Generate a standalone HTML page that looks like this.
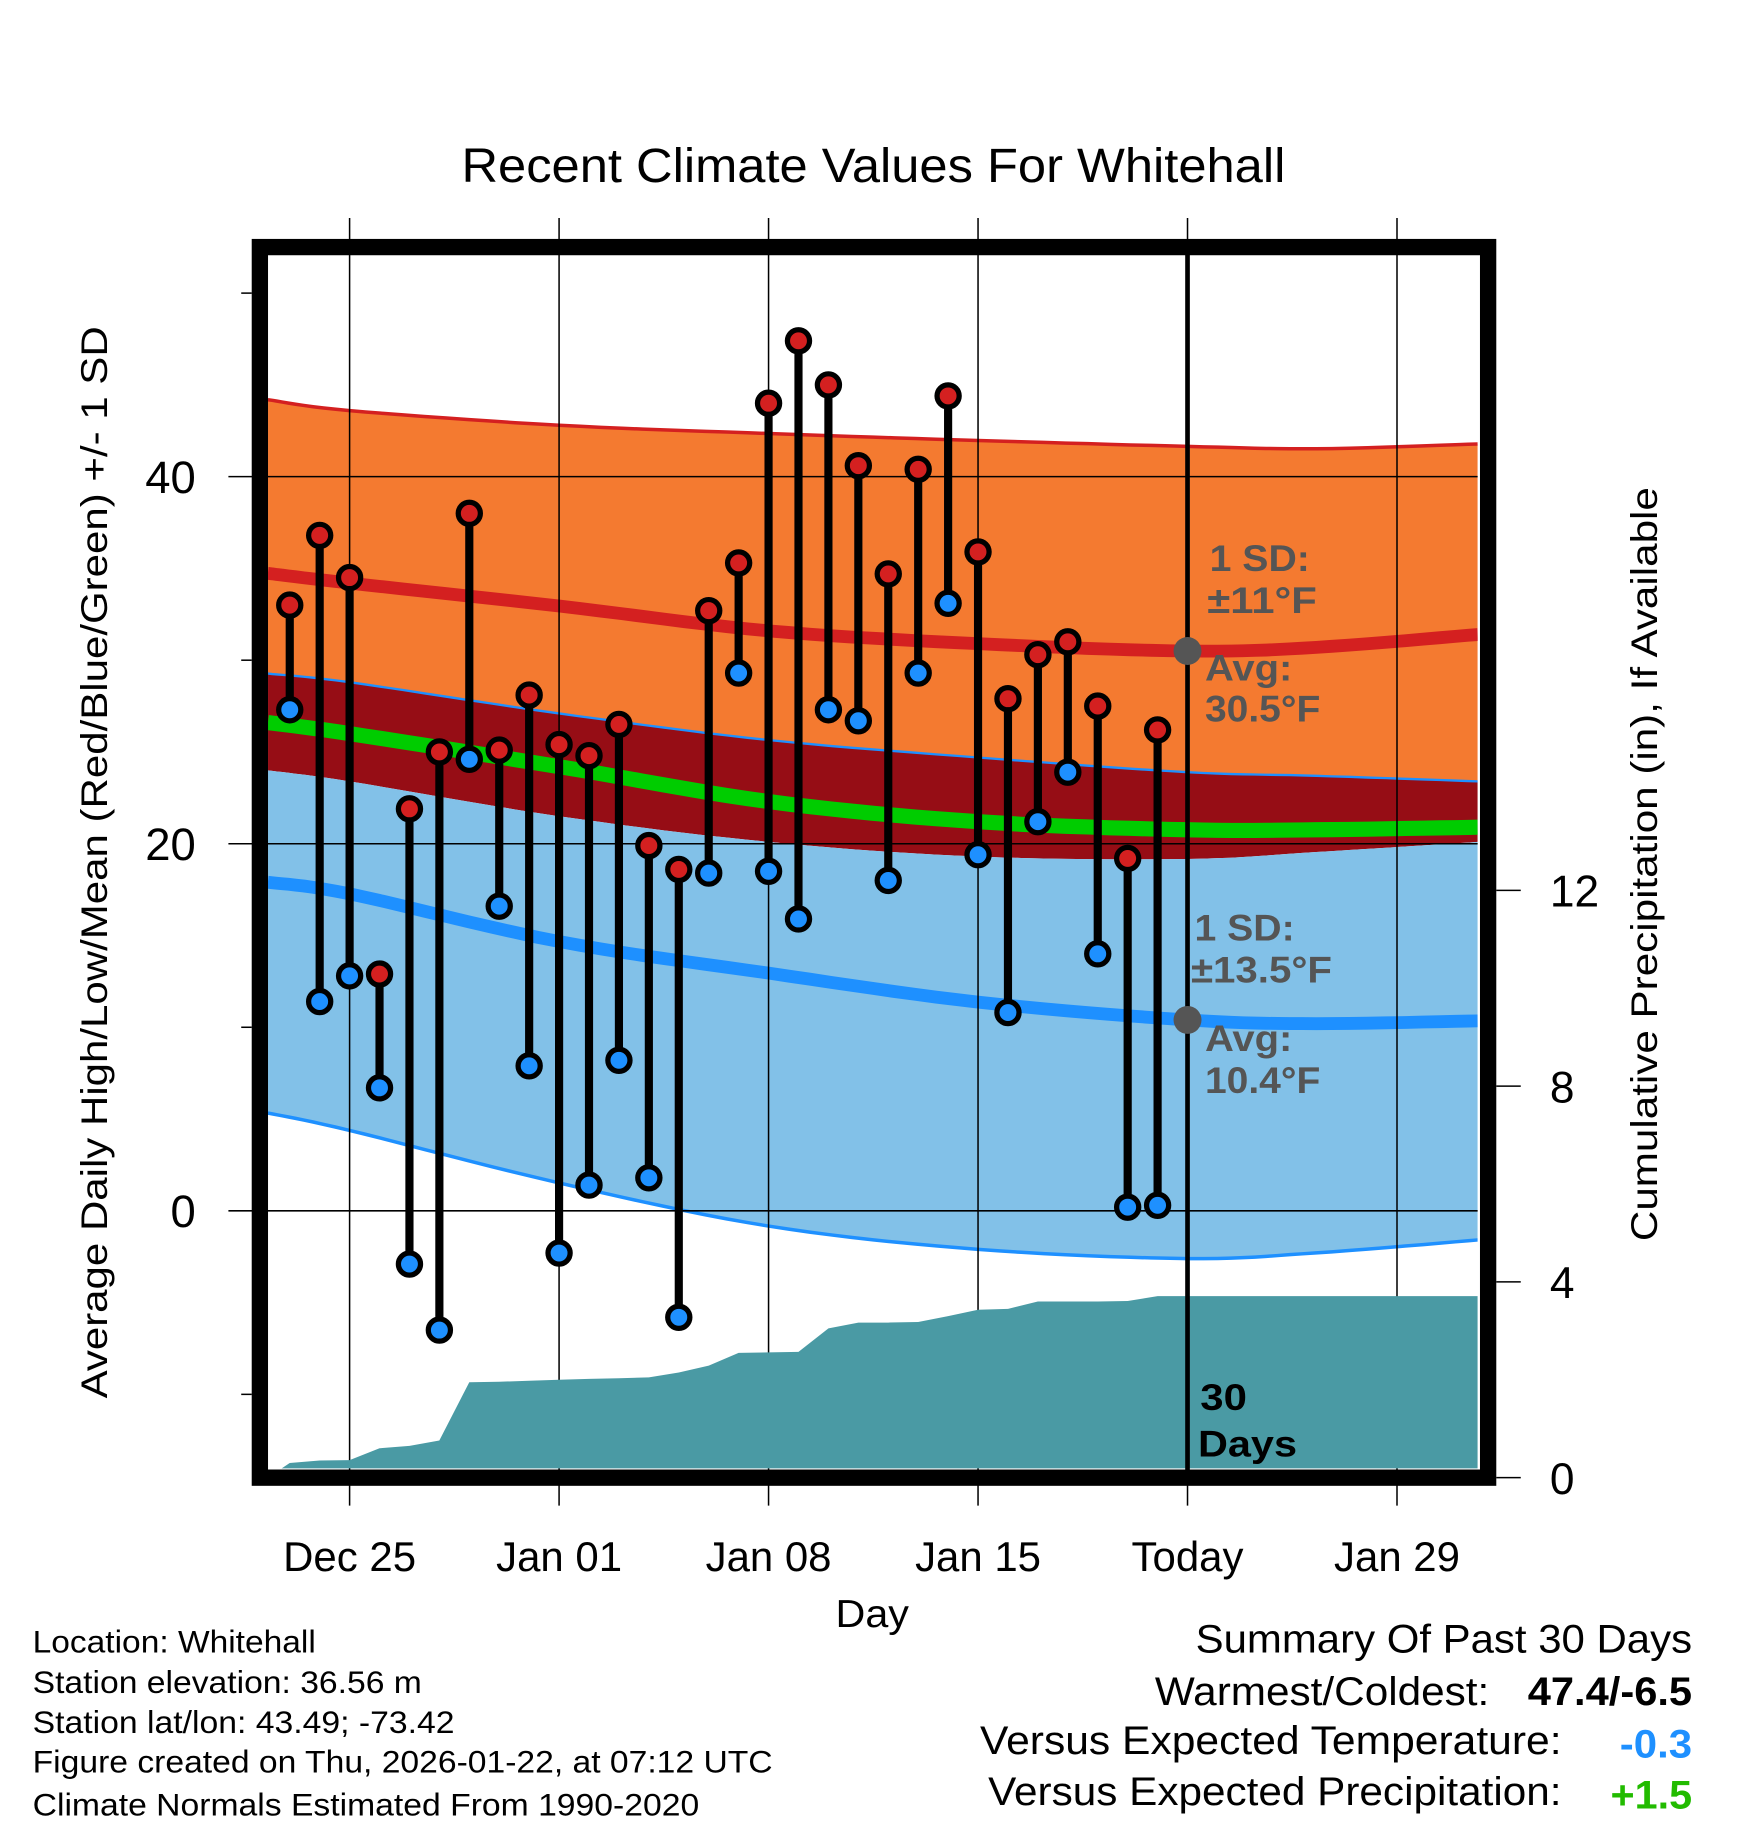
<!DOCTYPE html>
<html><head><meta charset="utf-8"><style>
html,body{margin:0;padding:0;background:#fff}
svg{display:block}
text{font-family:"Liberation Sans",Arial,sans-serif}
</style></head><body>
<svg id="chart" xmlns="http://www.w3.org/2000/svg" width="1748" height="1828" viewBox="0 0 1500 1568.6">
<defs><clipPath id="plotclip"><rect x="230" y="218" width="1038" height="1042"/></clipPath></defs>
<rect width="1500" height="1568.6" fill="#fff"/>
<text x="396" y="156" font-size="41" textLength="707" lengthAdjust="spacingAndGlyphs">Recent Climate Values For Whitehall</text>
<g id="bands" clip-path="url(#plotclip)"></g>
<g id="grid"></g>
<g id="precip" clip-path="url(#plotclip)"></g>
<g id="marks"></g>
<g id="annot"></g>
<rect x="223" y="212" width="1054" height="1056" fill="none" stroke="#000" stroke-width="14"/>
<g id="axes"></g>
<text transform="translate(92,1200) rotate(-90)" font-size="32" textLength="920" lengthAdjust="spacingAndGlyphs">Average Daily High/Low/Mean (Red/Blue/Green) +/- 1 SD</text>
<text transform="translate(1422,1065) rotate(-90)" font-size="32" textLength="647" lengthAdjust="spacingAndGlyphs">Cumulative Precipitation (in), If Available</text>
<text x="717" y="1396" font-size="33" textLength="63" lengthAdjust="spacingAndGlyphs">Day</text>
<g font-size="27">
<text x="28" y="1418" textLength="243" lengthAdjust="spacingAndGlyphs">Location: Whitehall</text>
<text x="28" y="1453" textLength="334" lengthAdjust="spacingAndGlyphs">Station elevation: 36.56 m</text>
<text x="28" y="1487" textLength="362" lengthAdjust="spacingAndGlyphs">Station lat/lon: 43.49; -73.42</text>
<text x="28" y="1521" textLength="635" lengthAdjust="spacingAndGlyphs">Figure created on Thu, 2026-01-22, at 07:12 UTC</text>
<text x="28" y="1558" textLength="572" lengthAdjust="spacingAndGlyphs">Climate Normals Estimated From 1990-2020</text>
</g>
<g font-size="34">
<text x="1026" y="1418" textLength="426" lengthAdjust="spacingAndGlyphs">Summary Of Past 30 Days</text>
<text x="991" y="1463" textLength="287" lengthAdjust="spacingAndGlyphs">Warmest/Coldest:</text>
<text x="1311" y="1463" font-weight="bold" textLength="141" lengthAdjust="spacingAndGlyphs">47.4/-6.5</text>
<text x="841" y="1505" textLength="499" lengthAdjust="spacingAndGlyphs">Versus Expected Temperature:</text>
<text x="1390" y="1508" font-weight="bold" fill="#1e90ff" textLength="62" lengthAdjust="spacingAndGlyphs">-0.3</text>
<text x="848" y="1549" textLength="492" lengthAdjust="spacingAndGlyphs">Versus Expected Precipitation:</text>
<text x="1382" y="1552" font-weight="bold" fill="#22bb00" textLength="70" lengthAdjust="spacingAndGlyphs">+1.5</text>
</g>
</svg>
<script>
// Data: day index 0 = Dec 23 .. 29 = Jan 21
const highs=[33.0,36.8,34.5,12.9,21.9,25.0,38.0,25.1,28.1,25.4,24.8,26.5,19.9,18.6,32.7,35.3,44.0,47.4,45.0,40.6,34.7,40.4,44.4,35.9,27.9,30.3,31.0,27.5,19.2,26.2];
const lows=[27.3,11.4,12.8,6.7,-2.9,-6.5,24.6,16.6,7.9,-2.3,1.4,8.2,1.8,-5.8,18.4,29.3,18.5,15.9,27.3,26.7,18.0,29.3,33.1,19.4,10.8,21.2,23.9,14.0,0.2,0.3];
const precip=[0.3,0.35,0.36,0.6,0.65,0.76,1.95,1.96,1.98,2.0,2.02,2.03,2.05,2.15,2.29,2.55,2.56,2.57,3.05,3.17,3.17,3.18,3.3,3.43,3.45,3.6,3.6,3.6,3.61,3.71];
// Normals sampled at day offsets (Dec 25 = 0)
const normDays=[-2.73,0,7,14,21,28,32.3,37.7];
const normUpper=[44.19,43.6,42.8,42.35,41.97,41.65,41.52,41.78];
const normHigh=[34.73,34.2,32.95,31.6,30.9,30.5,30.7,31.4];
const normHighMinus=[29.27,28.8,27.1,25.65,24.7,23.9,23.7,23.4];
const normMean=[26.6,26.0,24.2,22.3,21.2,20.76,20.76,20.9];
const normLowPlus=[24.0,23.4,21.5,20.1,19.3,19.17,19.55,20.1];
const normLow=[17.9,17.27,14.67,12.95,11.37,10.4,10.2,10.35];
const normLowMinus=[5.33,4.38,1.52,-0.83,-2.1,-2.6,-2.29,-1.59];
const yTicks=[40,20,0];
const yMinor=[50,30,10,-10];
const y2Ticks=[0,4,8,12];
const xTickDays=[0,7,14,21,28,35];
const xTickLabels=["Dec 25","Jan 01","Jan 08","Jan 15","Today","Jan 29"];
const todayDay=28;

const NS="http://www.w3.org/2000/svg";
const X=d=>300+d*25.68;
const Y=t=>1039-t*15.75;
const Y2=p=>1268-p*42;
function mk(tag,attrs,parent){const e=document.createElementNS(NS,tag);for(const k in attrs)e.setAttribute(k,attrs[k]);parent.appendChild(e);return e;}
const g=id=>document.getElementById(id);
// smooth sampling via Catmull-Rom
function smoothPts(arr){
  const P=normDays.map((d,i)=>[X(d),Y(arr[i])]);
  const out=[];
  for(let i=0;i<P.length-1;i++){
    const p0=P[Math.max(0,i-1)],p1=P[i],p2=P[i+1],p3=P[Math.min(P.length-1,i+2)];
    for(let s=0;s<10;s++){
      const t=s/10,t2=t*t,t3=t2*t;
      const f=(a,b,c,d)=>0.5*((2*b)+(-a+c)*t+(2*a-5*b+4*c-d)*t2+(-a+3*b-3*c+d)*t3);
      out.push([f(p0[0],p1[0],p2[0],p3[0]),f(p0[1],p1[1],p2[1],p3[1])]);
    }
  }
  out.push(P[P.length-1]);
  return out.map(p=>p[0].toFixed(1)+","+p[1].toFixed(1));
}
function band(top,bot,fill,name){
  const p=smoothPts(top).concat(smoothPts(bot).reverse());
  const e=mk('polygon',{points:p.join(' '),fill:fill},g('bands'));
  
  
}
function line(arr,color,w,name){
  const e=mk('polyline',{points:smoothPts(arr).join(' '),fill:'none',stroke:color,'stroke-width':w,'stroke-linejoin':'round'},g('bands'));
  
  
}
band(normUpper,normHighMinus,'#f47a30','high-sd-band');
band(normHighMinus,normLowPlus,'#960d15','overlap-band');
band(normLowPlus,normLowMinus,'#82c1e8','low-sd-band');
line(normUpper,'#d42020',3,'high-plus-sd-line');
line(normHighMinus,'#1e90ff',2,'high-minus-sd-line');
line(normLowMinus,'#1e90ff',3,'low-minus-sd-line');
line(normHigh,'#d42020',11,'normal-high-line');
line(normMean,'#00cc00',13,'normal-mean-line');
line(normLow,'#1e90ff',11,'normal-low-line');

yTicks.forEach(t=>{
  const l=mk('line',{x1:196,x2:1268,y1:Y(t),y2:Y(t),stroke:'#000','stroke-width':1.3},g('grid'));
  
  
  const tx=mk('text',{x:168,y:Y(t)+14,'font-size':39,'text-anchor':'end'},g('axes'));
  tx.textContent=t;
  
  
});
yMinor.forEach(t=>{
  const l=mk('line',{x1:207,x2:216,y1:Y(t),y2:Y(t),stroke:'#000','stroke-width':1.3},g('axes'));
  
  
});
y2Ticks.forEach(p=>{
  const l=mk('line',{x1:1284,x2:1305,y1:Y2(p),y2:Y2(p),stroke:'#000','stroke-width':1.3},g('axes'));
  
  
  const tx=mk('text',{x:1330,y:Y2(p)+14,'font-size':38},g('axes'));
  tx.textContent=p;
  
  
});
xTickDays.forEach((d,i)=>{
  const l=mk('line',{x1:X(d),x2:X(d),y1:187,y2:1292,stroke:'#000','stroke-width':1.3},g('grid'));
  
  
  const tx=mk('text',{x:X(d),y:1348,'font-size':36,'text-anchor':'middle'},g('axes'));
  tx.textContent=xTickLabels[i];
  
  
});

(function(){
  let p=[X(-2.73)+','+Y2(0)];
  precip.forEach((v,i)=>p.push(X(i-2).toFixed(1)+','+Y2(v).toFixed(1)));
  p.push(X(37.7)+','+Y2(precip[precip.length-1]));
  p.push(X(37.7)+','+Y2(0));
  const e=mk('polygon',{points:p.join(' '),fill:'#4a9aa4'},g('precip'));
  
  
})();

const tl=mk('line',{x1:X(todayDay),x2:X(todayDay),y1:218,y2:1262,stroke:'#000','stroke-width':4},g('marks'));



highs.forEach((h,i)=>{
  const x=X(i-2);
  const b=mk('line',{x1:x,x2:x,y1:Y(h),y2:Y(lows[i]),stroke:'#000','stroke-width':7},g('marks'));
  
  
});
highs.forEach((h,i)=>{
  const x=X(i-2);
  const c1=mk('circle',{cx:x,cy:Y(h),r:9.5,fill:'#d42020',stroke:'#000','stroke-width':4.5},g('marks'));
  
  
  const c2=mk('circle',{cx:x,cy:Y(lows[i]),r:9.5,fill:'#1e90ff',stroke:'#000','stroke-width':4.5},g('marks'));
  
  
});

const todayHigh=normHigh[5], todayLow=normLow[5];
[[todayHigh,'today-normal-high-dot'],[todayLow,'today-normal-low-dot']].forEach(a=>{
  const c=mk('circle',{cx:X(todayDay),cy:Y(a[0]),r:12,fill:'#555'},g('annot'));
  
  
});
const labels=[[1038,490,'1 SD:','#555',86],[1036,526,'±11°F','#555',94],[1034,584,'Avg:','#555',75],[1034,619,'30.5°F','#555',99],
[1025,807,'1 SD:','#555',86],[1022,843,'±13.5°F','#555',121],[1034,902,'Avg:','#555',75],[1034,938,'10.4°F','#555',99],
[1030,1210,'30','#000',40],[1028,1250,'Days','#000',85]];
labels.forEach(l=>{
  const t=mk('text',{x:l[0],y:l[1],'font-size':32,'font-weight':'bold',fill:l[3],textLength:l[4],lengthAdjust:'spacingAndGlyphs'},g('annot'));
  t.textContent=l[2];
  
  
});
</script>
</body></html>
